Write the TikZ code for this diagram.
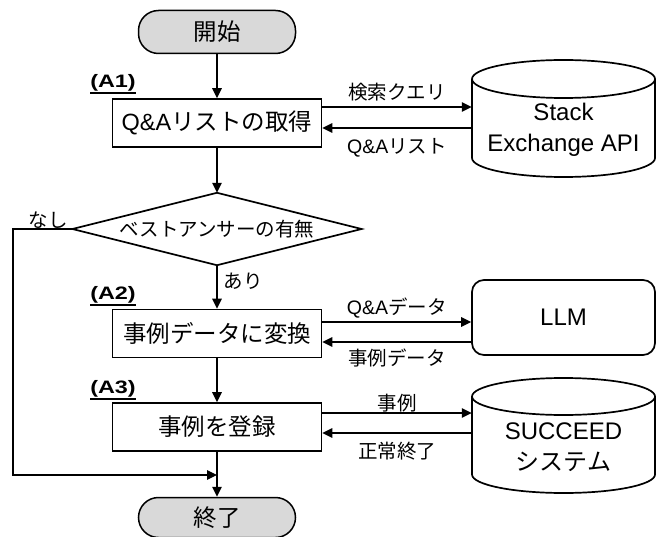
\documentclass[tikz,border=0pt]{standalone}
\usepackage{fontspec}
\setmainfont{Liberation Sans}
\newfontfamily\jp{Noto Sans CJK JP}
\newfontfamily\tagfont[FakeStretch=1.3]{Liberation Sans}
\usetikzlibrary{arrows.meta}
\definecolor{termgray}{RGB}{217,217,217}
\begin{document}
\begin{tikzpicture}[x=1pt,y=-1pt,
  mainfont/.style={font=\fontsize{23.5}{31}\selectfont},
  box/.style={draw, line width=1.7pt, minimum width=209pt, minimum height=48pt, inner sep=0pt, mainfont},
  term/.style={draw, line width=1.5pt, fill=termgray, rounded corners=20pt, minimum width=157pt, minimum height=43pt, inner sep=0pt, mainfont},
  res/.style={minimum width=183pt, inner sep=0pt, align=center, font=\fontsize{24}{31}\selectfont},
  outline/.style={line width=1.7pt},
  arr/.style={line width=1.4pt, -{Triangle[length=10pt,width=9.5pt]}},
  lab/.style={inner sep=0pt, font=\fontsize{19.5}{22}\selectfont},
  tag/.style={inner sep=0pt, font=\fontsize{18}{20}\selectfont\tagfont\bfseries},
]
\useasboundingbox (0,0) rectangle (660,537);

% main column
\node[term] (start) at (217,32) {\jp 開始};
\node[box] (a1) at (217,123) {Q\&A{\jp リストの取得}};
\node[minimum width=289pt, minimum height=72pt, inner sep=0pt, font=\fontsize{19.5}{22}\selectfont] (dec) at (217,229) {\jp ベストアンサーの有無};
\draw[outline] (dec.north) -- (dec.east) -- (dec.south) -- (dec.west) -- cycle;
\node[box] (a2) at (217,333.5) {\jp 事例データに変換};
\node[box] (a3) at (217,427) {\jp 事例を登録};
\node[term, minimum height=40pt] (end) at (217,517.5) {\jp 終了};

% tags
\node[tag] (t1) at (113,83) {(A1)};
\draw[line width=1.2pt] ([yshift=-1.5pt]t1.south west) -- ([yshift=-1.5pt]t1.south east);
\node[tag] (t2) at (113,295) {(A2)};
\draw[line width=1.2pt] ([yshift=-1.5pt]t2.south west) -- ([yshift=-1.5pt]t2.south east);
\node[tag] (t3) at (113,389) {(A3)};
\draw[line width=1.2pt] ([yshift=-1.5pt]t3.south west) -- ([yshift=-1.5pt]t3.south east);

% resources
\draw[outline] (472,79) -- (472,158) arc[start angle=180,end angle=360,x radius=91.5pt,y radius=19pt] -- (655,79) arc[start angle=0,end angle=180,x radius=91.5pt,y radius=19pt] -- cycle;
\draw[outline] (472,79) arc[start angle=180,end angle=360,x radius=91.5pt,y radius=19pt];
\node[res] (se) at (563.5,129.5) {Stack\\Exchange API};

\node[res, draw, line width=1.7pt, rounded corners=12pt, minimum height=75pt] (llm) at (563.5,317.5) {LLM};

\draw[outline] (472,396.5) -- (472,474.5) arc[start angle=180,end angle=360,x radius=91.5pt,y radius=18.5pt] -- (655,396.5) arc[start angle=0,end angle=180,x radius=91.5pt,y radius=18.5pt] -- cycle;
\draw[outline] (472,396.5) arc[start angle=180,end angle=360,x radius=91.5pt,y radius=18.5pt];
\node[res] (sc) at (563.5,447) {SUCCEED\\{\jp システム}};

% main flow
\draw[arr] (start) -- (a1);
\draw[arr] (a1) -- (dec.north);
\draw[arr] (dec.south) -- (a2);
\node[lab] (ari) at (243,281) {\jp あり};
\draw[arr] (a2) -- (a3);
\draw[arr] (a3) -- (end);

% "nashi" branch
\coordinate (nl) at (13,229);
\coordinate (nb) at (13,475);
\coordinate (mg) at (217,475);
\draw[line width=1.1pt, -{Triangle[length=10pt,width=9.5pt]}] (dec.west) -- (nl) -- (nb) -- (mg);
\node[lab] (nashi) at (48,220) {\jp なし};

% side connectors
\draw[arr] (a1.east |- 0,107) -- node[lab, midway, yshift=15pt] (l1) {\jp 検索クエリ} (se.west |- 0,107);
\draw[arr] (se.west |- 0,128) -- node[lab, midway, yshift=-20pt] (l2) {Q\&A{\jp リスト}} (a1.east |- 0,128);
\draw[arr] (a2.east |- 0,322) -- node[lab, midway, yshift=13.5pt] (l3) {Q\&A{\jp データ}} (llm.west |- 0,322);
\draw[arr] (llm.west |- 0,342) -- node[lab, midway, yshift=-16pt] (l4) {\jp 事例データ} (a2.east |- 0,342);
\draw[arr] (a3.east |- 0,413) -- node[lab, midway, yshift=10pt] (l5) {\jp 事例} (sc.west |- 0,413);
\draw[arr] (sc.west |- 0,433) -- node[lab, midway, yshift=-18pt] (l6) {\jp 正常終了} (a3.east |- 0,433);
\end{tikzpicture}
\end{document}
